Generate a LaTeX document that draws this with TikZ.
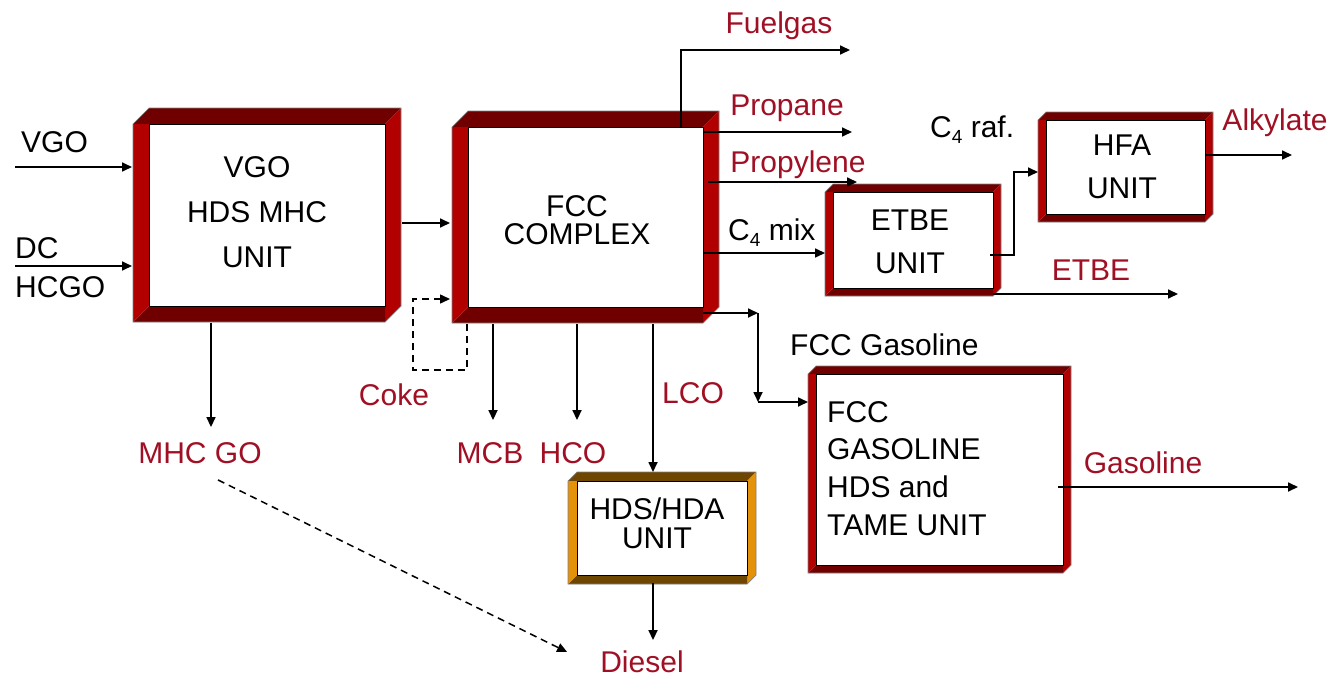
\documentclass[tikz,border=0pt]{standalone}
\usepackage{fontspec}
\setmainfont{Liberation Sans}
\usetikzlibrary{arrows.meta,calc}
\definecolor{lbl}{RGB}{160,16,36}
\definecolor{bdark}{RGB}{112,0,0}
\definecolor{blight}{RGB}{178,0,0}
\definecolor{odark}{RGB}{110,70,0}
\definecolor{olight}{RGB}{228,146,10}
\newcommand\bevelframe[4]{%
 \fill[#3] let \p1=(#1.north west), \p2=(#1.south east) in (\x1-#2,\y1) -- (\x1,\y1+#2) -- (\x2+#2,\y1+#2) -- (\x2,\y1) -- cycle;
 \fill[#4] let \p1=(#1.north west), \p2=(#1.south east) in (\x2,\y1) -- (\x2+#2,\y1+#2) -- (\x2+#2,\y2) -- (\x2,\y2-#2) -- cycle;
 \fill[#3] let \p1=(#1.north west), \p2=(#1.south east) in (\x1-#2,\y2-#2) -- (\x1,\y2) -- (\x2,\y2) -- (\x2,\y2-#2) -- cycle;
 \fill[#4] let \p1=(#1.north west), \p2=(#1.south east) in (\x1-#2,\y1) -- (\x1,\y1) -- (\x1,\y2) -- (\x1-#2,\y2-#2) -- cycle;
 \draw[black!50,line width=0.7pt] let \p1=(#1.north west), \p2=(#1.south east) in (\x1-#2,\y1) -- (\x1,\y1+#2) -- (\x2+#2,\y1+#2) -- (\x2+#2,\y2) -- (\x2,\y2-#2) -- (\x1-#2,\y2-#2) -- cycle;
 \draw[black,line width=1pt] (#1.north west) rectangle (#1.south east);
}
\tikzset{
 unitbox/.style={fill=white, inner sep=0pt, outer sep=0pt},
 lab/.style={text=lbl, font=\fontsize{30}{30}\selectfont, inner sep=0pt, text height=21.5pt, text depth=0pt},
 blab/.style={lab, text=black},
 boxtxt/.style={font=\fontsize{30}{#1}\selectfont, align=center, inner sep=0pt, text=black},
 arr/.style={line width=1.7pt, -{Triangle[length=10pt,width=9pt]}},
 dsh/.style={line width=1.5pt, dash pattern=on 7pt off 5pt},
 darr/.style={dsh, -{Triangle[length=10pt,width=9pt]}},
}
\begin{document}
\begin{tikzpicture}[x=1pt,y=-1pt]
\useasboundingbox[fill=white] (0,0) rectangle (1335,677);
% unit boxes (inner white areas)
\node[unitbox, minimum width=236pt, minimum height=182pt] (vgo) at (267,215) {};
\node[unitbox, minimum width=235pt, minimum height=180pt] (fcc) at (585.5,217) {};
\node[unitbox, minimum width=160pt, minimum height=96pt] (etbe) at (913,240) {};
\node[unitbox, minimum width=159pt, minimum height=94pt] (hfa) at (1125.5,167) {};
\node[unitbox, minimum width=170pt, minimum height=94pt] (hda) at (662,528) {};
\node[unitbox, minimum width=247pt, minimum height=191pt] (gas) at (939.5,469.5) {};
\bevelframe{vgo}{16pt}{bdark}{blight}
\bevelframe{fcc}{16pt}{bdark}{blight}
\bevelframe{etbe}{8pt}{bdark}{blight}
\bevelframe{hfa}{8pt}{bdark}{blight}
\bevelframe{hda}{9pt}{odark}{olight}
\bevelframe{gas}{8pt}{bdark}{blight}
% box texts
\node[boxtxt=45] (vgot) at (257,212) {VGO\\HDS MHC\\UNIT};
\node[boxtxt=28] (fcct) at (577,220.5) {FCC\\COMPLEX};
\node[boxtxt=43] (etbet) at (910,241.5) {ETBE\\UNIT};
\node[boxtxt=43] (hfat) at (1122,166.5) {HFA\\UNIT};
\node[boxtxt=29] (hdat) at (657,523.5) {HDS/HDA\\UNIT};
\node[boxtxt=37.7, align=left, anchor=west] (gast) at (827,468.5) {FCC\\GASOLINE\\HDS and\\TAME UNIT};
% labels
\node[blab, anchor=west] (vgol) at (21,142) {VGO};
\node[blab, anchor=west] (dcl) at (15,248) {DC};
\node[blab, anchor=west] (hcgol) at (15,287) {HCGO};
\node[blab, anchor=west] (c4mix) at (728,230) {C{\fontsize{19}{19}\selectfont\raisebox{-6pt}{4}} mix};
\node[blab, anchor=west] (c4raf) at (930,127) {C{\fontsize{19}{19}\selectfont\raisebox{-6pt}{4}} raf.};
\node[blab, anchor=west] (fccgasl) at (790,345) {FCC Gasoline};
\node[lab] (fuelgas) at (779,23) {Fuelgas};
\node[lab] (propane) at (787,105) {Propane};
\node[lab] (propylene) at (798,162) {Propylene};
\node[lab] (etbel) at (1091,270) {ETBE};
\node[lab] (alkylate) at (1275,120) {Alkylate};
\node[lab] (gasoline) at (1143,463) {Gasoline};
\node[lab] (mhcgo) at (200,453) {MHC GO};
\node[lab] (coke) at (394,395) {Coke};
\node[lab] (mcb) at (490,453) {MCB};
\node[lab] (hco) at (573,453) {HCO};
\node[lab] (lco) at (693,393) {LCO};
\node[lab] (diesel) at (642,662) {Diesel};
% free ends
\coordinate (vgoin) at (15,167);
\coordinate (dcin) at (15,266);
\coordinate (fuelgasend) at (850,50);
\coordinate (propaneend) at (852,132);
\coordinate (propyleneend) at (857,182);
\coordinate (g1) at (758,313);
\coordinate (g2) at (758,402);
\coordinate (r1) at (1014,255);
\coordinate (etbeend) at (1178,294);
\coordinate (alkend) at (1292,155);
\coordinate (gasend) at (1298,487);
\coordinate (ck1) at (467,370);
\coordinate (ck2) at (413,299);
% connectors
\draw[arr] (vgoin) -- ($(vgoin -| vgo.west)+(-17,0)$);
\draw[arr] (dcin) -- ($(dcin -| vgo.west)+(-17,0)$);
\draw[arr] ($(vgo.east |- 0,223)+(17,0)$) -- ($(fcc.west |- 0,223)+(-18,0)$);
\draw[arr] (fcc.north -| 681,0) |- (fuelgasend);
\draw[arr] (fcc.east |- propaneend) -- (propaneend);
\draw[arr] ($(fcc.east |- propyleneend)+(5,0)$) -- (propyleneend);
\draw[arr] (fcc.east |- 0,253) -- ($(etbe.west |- 0,253)+(-8,0)$);
\draw[arr] (fcc.east |- g1) -- (g1);
\draw[arr] (g1) -- (g2);
\draw[arr] (g2) -- ($(gas.west |- g2)+(-8,0)$);
\draw[arr] ($(etbe.east |- r1)+(-3,0)$) -- (r1) |- ($(hfa.west |- 0,172)+(-8,0)$);
\draw[arr] (etbe.east |- etbeend) -- (etbeend);
\draw[arr] (hfa.east |- alkend) -- (alkend);
\draw[arr] ($(gas.east |- gasend)+(-5,0)$) -- (gasend);
\draw[arr] ($(vgo.south -| 211,0)+(0,17)$) -- ($(mhcgo.north -| 211,0)+(0,-15)$);
\draw[arr] ($(fcc.south -| 493,0)+(0,17)$) -- ($(mcb.north -| 493,0)+(0,-22)$);
\draw[arr] ($(fcc.south -| 577,0)+(0,17)$) -- ($(hco.north -| 577,0)+(0,-22)$);
\draw[arr] ($(fcc.south -| 653,0)+(0,17)$) -- ($(hda.north -| 653,0)+(0,-9)$);
\draw[arr] ($(hda.south -| 653,0)+(0,8)$) -- ($(diesel.north -| 653,0)+(0,-11)$);
\draw[darr] ($(mhcgo.south)+(18,16)$) -- ($(diesel.west)+(-33,-10)$);
\draw[darr] ($(fcc.south -| ck1)+(0,17)$) -- (ck1) -| (ck2) -- ($(fcc.west |- ck2)+(-18,0)$);
\end{tikzpicture}
\end{document}
